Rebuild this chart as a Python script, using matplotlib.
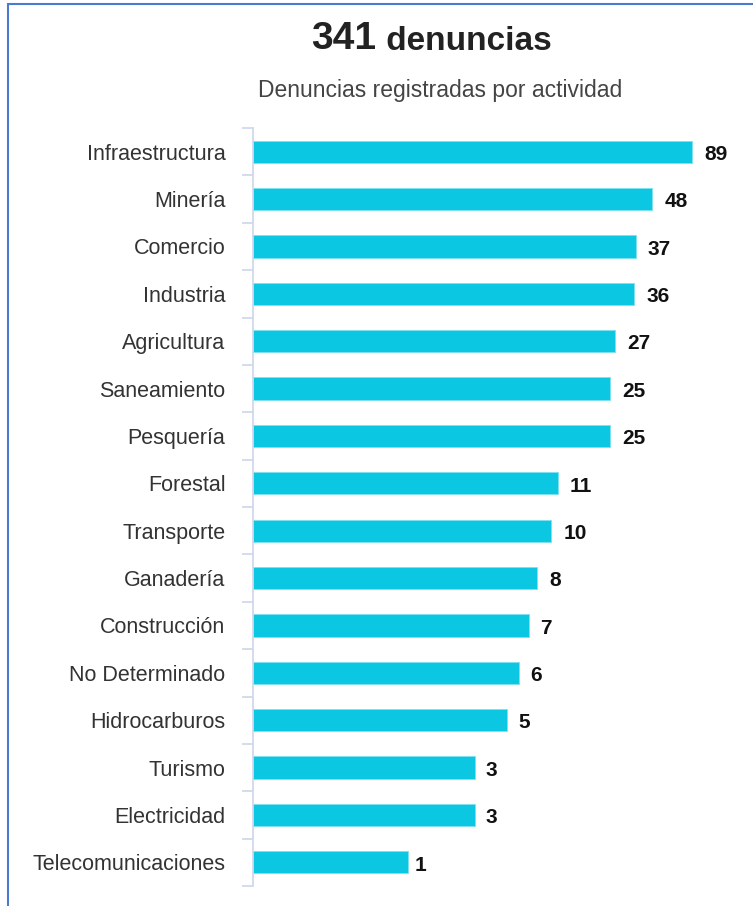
import matplotlib.pyplot as plt
from matplotlib.patches import Rectangle

plt.rcParams['font.family'] = ['Liberation Sans', 'DejaVu Sans']

actividades = ['Infraestructura', 'Minería', 'Comercio', 'Industria', 'Agricultura',
               'Saneamiento', 'Pesquería', 'Forestal', 'Transporte', 'Ganadería',
               'Construcción', 'No Determinado', 'Hidrocarburos', 'Turismo',
               'Electricidad', 'Telecomunicaciones']
denuncias = [89, 48, 37, 36, 27, 25, 25, 11, 10, 8, 7, 6, 5, 3, 3, 1]

fig = plt.figure(figsize=(7.53, 9.06), dpi=100)
ax = fig.add_axes([253.2 / 753, 1 - 886 / 906, (699.6 - 253.2) / 753, (886 - 128) / 906])

pos = list(range(len(actividades)))
ax.barh(pos, denuncias, height=0.47, left=0.1, color='#0bc7e1', edgecolor='#7fe0ef', linewidth=0.6)
ax.set_xscale('log')
ax.set_xlim(0.1, 100)
ax.set_ylim(len(actividades) - 0.5, -0.5)

for p, v in zip(pos, denuncias):
    ax.annotate(str(v), (v, p), xytext=(9, -2), textcoords='offset points',
                va='center', ha='left', fontsize=15, color='#111111', fontweight='semibold')

ax.set_yticks(pos)
ax.set_yticklabels(actividades, fontsize=15.5, color='#333333')
ax.tick_params(axis='y', which='major', length=0, pad=20)
ax.set_yticks([p - 0.5 for p in pos] + [len(pos) - 0.5], minor=True)
ax.tick_params(axis='y', which='minor', length=8, color='#ccd6eb', width=1.2)
ax.set_xticks([])
ax.set_xticks([], minor=True)

for s in ['top', 'right', 'bottom']:
    ax.spines[s].set_visible(False)
ax.spines['left'].set_color('#ccd6eb')
ax.spines['left'].set_linewidth(1.2)

t1 = fig.text(344 / 753, 1 - 39 / 906, '341', fontsize=28, fontweight='bold',
              color='#222222', ha='center', va='center')
fig.text(440 / 753, 1 - 90 / 906, 'Denuncias registradas por actividad',
         fontsize=16.5, color='#444444', ha='center', va='center')
ax.annotate(' denuncias', xy=(1, 0), xycoords=t1, va='bottom', ha='left',
            fontsize=24, fontweight='bold', color='#222222', annotation_clip=False)

fig.patches.append(Rectangle((8 / 753, -0.1), 1, 1.1 - 4 / 906, transform=fig.transFigure,
                             fill=False, edgecolor='#4a7bd0', linewidth=1.5))

fig.savefig('out.png', dpi=100)
